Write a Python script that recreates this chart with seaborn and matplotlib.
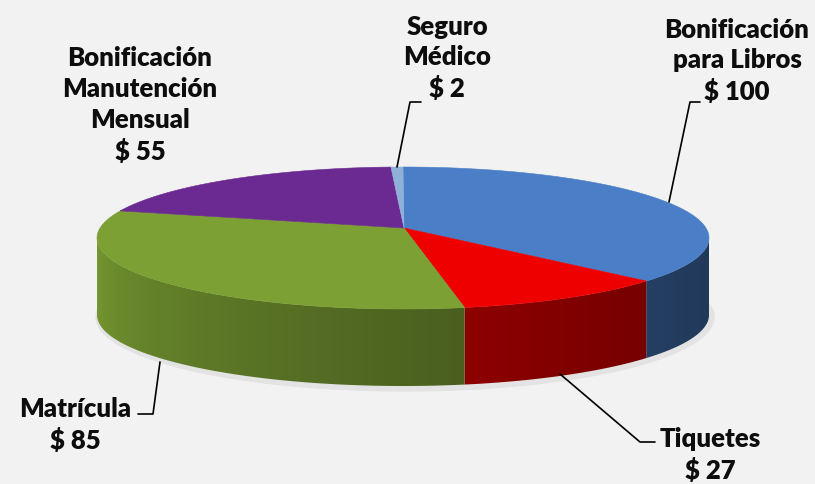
import numpy as np
import matplotlib.pyplot as plt
import seaborn as sns
from matplotlib.patches import Polygon, Ellipse
from matplotlib.colors import to_rgb

labels = ["Bonificación\npara Libros", "Tiquetes", "Matrícula",
          "Bonificación\nManutención\nMensual", "Seguro\nMédico"]
values = [100, 27, 85, 55, 2]
colors = ["#4a7ec6", "#ee0000", "#7ca034", "#6b2a91", "#8fb0d8"]

sns.set_theme(style="white", rc={"figure.facecolor": "#f2f2f2",
                                 "axes.facecolor": "#f2f2f2"})
plt.rcParams["font.family"] = ["Lato", "DejaVu Sans"]

fig = plt.figure(figsize=(8.15, 4.85), dpi=100)
ax = fig.add_axes([0, 0, 1, 1])
ax.set_xlim(0, 815)
ax.set_ylim(485, 0)
ax.axis("off")

# pie geometry in pixel space (slight perspective: centre sits above ellipse middle)
cx, cy, rx, ry, depth = 403, 239, 306, 71, 77
px, py = 404, 229


def warp(t):
    return t + 9 * np.cos(np.radians(t))


def rim(t, dz=0.0):
    t = np.radians(t)
    return np.column_stack([cx + rx * np.cos(t), cy - ry * np.sin(t) + dz])


def shade(t):
    return 0.45 + 0.5 * (np.clip(-t, 0, 180) / 180) ** 1.5


total = sum(values)
bounds = warp(90 - 360 * np.concatenate([[0], np.cumsum(values)]) / total)

# soft shadow
ax.add_patch(Ellipse((cx + 2, cy + depth + 2), 2 * rx + 6, 2 * ry + 6,
                     color="#e3e3e3", zorder=0))

# side walls (front half only), shaded with a horizontal gradient
xs_grad = np.linspace(cx - rx, cx + rx, 400)
t_grad = -np.degrees(np.arccos(np.clip((xs_grad - cx) / rx, -1, 1)))
for i, col in enumerate(colors):
    hi, lo = bounds[i], bounds[i + 1]
    base = np.array(to_rgb(col))
    for shift in (-360, 0, 360):
        l, h = max(lo + shift, -180), min(hi + shift, 0)
        if l >= h:
            continue
        ts = np.linspace(l, h, 100)
        wall = np.vstack([rim(ts), rim(ts[::-1], depth)])
        poly = Polygon(wall, closed=True, facecolor="none",
                       edgecolor="none", zorder=1)
        ax.add_patch(poly)
        grad = np.clip(base[None, :] * shade(t_grad)[:, None], 0, 1)
        img = ax.imshow(grad[None, :, :], extent=(cx - rx, cx + rx,
                        cy + ry + depth + 2, cy - ry), aspect="auto",
                        interpolation="bilinear", zorder=1)
        img.set_clip_path(poly)

# top faces
for i, col in enumerate(colors):
    ts = np.linspace(bounds[i], bounds[i + 1], 200)
    pts = np.vstack([[px, py], rim(ts)])
    ax.add_patch(Polygon(pts, closed=True, facecolor=col, edgecolor=col,
                         lw=0.4, zorder=2))

ax.set_xlim(0, 815)
ax.set_ylim(485, 0)

# labels
label_pos = [(737, 61), (710, 455), (75, 425), (140, 105), (447, 58)]
for lab, v, (x, y) in zip(labels, values, label_pos):
    ax.text(x, y, f"{lab}\n\\$ {v}", ha="center", va="center",
            fontsize=18.5, fontweight="heavy", linespacing=1.33,
            color="#0d0d0d", zorder=5)

# leader lines
leaders = [
    [(669, 203), (690, 103), (700, 103)],
    [(560, 375), (640, 443), (655, 443)],
    [(160, 363), (153, 415), (138, 415)],
    [(397, 168), (410, 103), (421, 103)],
]
for pts in leaders:
    xs, ys = zip(*pts)
    ax.plot(xs, ys, color="black", lw=1.2, zorder=4)

plt.savefig("out.png", dpi=100, facecolor=fig.get_facecolor())
